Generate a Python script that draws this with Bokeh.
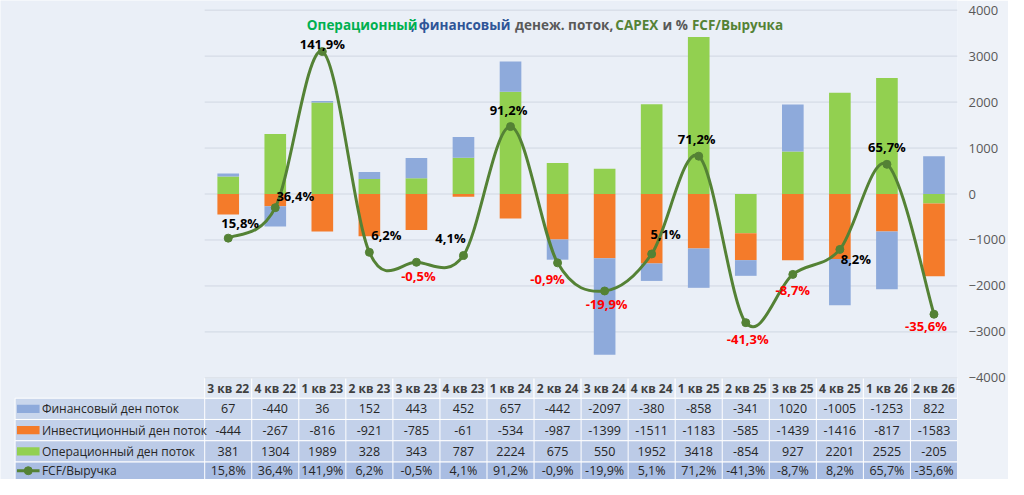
from bokeh.plotting import figure
from bokeh.models import Range1d, LinearAxis, FixedTicker, ColumnDataSource
from bokeh.embed import file_html
from bokeh.resources import INLINE
from bokeh.core.properties import value

cats = ["3 кв 22","4 кв 22","1 кв 23","2 кв 23","3 кв 23","4 кв 23","1 кв 24","2 кв 24",
        "3 кв 24","4 кв 24","1 кв 25","2 кв 25","3 кв 25","4 кв 25","1 кв 26","2 кв 26"]
fin = [67,-440,36,152,443,452,657,-442,-2097,-380,-858,-341,1020,-1005,-1253,822]
inv = [-444,-267,-816,-921,-785,-61,-534,-987,-1399,-1511,-1183,-585,-1439,-1416,-817,-1583]
op = [381,1304,1989,328,343,787,2224,675,550,1952,3418,-854,927,2201,2525,-205]
fcf = [15.8,36.4,141.9,6.2,-0.5,4.1,91.2,-0.9,-19.9,5.1,71.2,-41.3,-8.7,8.2,65.7,-35.6]
row_names = ["Финансовый ден поток","Инвестиционный ден поток","Операционный ден поток","FCF/Выручка"]
yticks = [-4000,-3000,-2000,-1000,0,1000,2000,3000,4000]

C_FIN, C_INV, C_OP, C_LINE = "#8eaadb", "#f47b2a", "#92d050", "#548235"
FONT = value("Open Sans")
n = len(cats)
xs = list(range(n))

p = figure(width=1008, height=479, output_backend="svg", toolbar_location=None,
           x_range=Range1d(-4.84, 15.5), y_range=Range1d(-6211, 4210),
           min_border_left=0, min_border_right=48, min_border_top=0, min_border_bottom=0)
p.background_fill_color = "#eaeff7"
p.border_fill_color = "#eef2f8"
p.outline_line_color = None
p.xaxis.visible = False
p.yaxis.visible = False
p.xgrid.visible = False
p.ygrid.visible = False

# table background
p.quad(left=[-4.53]*4, right=[15.5]*4, top=[-4442,-4905,-5368,-5831], bottom=[-4905,-5368,-5831,-6211],
       fill_color=["#c9d6ec","#c3d1ea","#bccbe7","#a9bde2"], line_color="white", line_width=1)
p.quad(left=[x-0.5 for x in xs], right=[x+0.5 for x in xs], top=[-4000]*n, bottom=[-4442]*n,
       fill_color="#dfe7f3", line_color="white", line_width=1)
for r in range(4):
    tops = [-4442,-4905,-5368,-5831][r]
    bots = [-4905,-5368,-5831,-6211][r]
    p.segment(x0=[x-0.5 for x in xs], x1=[x-0.5 for x in xs], y0=[tops]*n, y1=[bots]*n,
              line_color="white", line_width=1)

# grid
p.segment(x0=[-0.5]*len(yticks), x1=[15.5]*len(yticks), y0=yticks, y1=yticks,
          line_color="#d0d7e2", line_width=1)

# stacking
def stack(vals, pos, neg):
    b, t = [], []
    for i, v in enumerate(vals):
        if v >= 0:
            b.append(pos[i]); t.append(pos[i] + v); pos[i] += v
        else:
            b.append(neg[i]); t.append(neg[i] + v); neg[i] += v
    return b, t
pos = [0]*n; neg = [0]*n
ob, ot = stack(op, pos, neg)
ib, it = stack(inv, pos, neg)
fb, ft = stack(fin, pos, neg)
w = 0.46
p.vbar(x=xs, bottom=ob, top=ot, width=w, fill_color=C_OP, line_color=None)
p.vbar(x=xs, bottom=ib, top=it, width=w, fill_color=C_INV, line_color=None)
p.vbar(x=xs, bottom=fb, top=ft, width=w, fill_color=C_FIN, line_color=None)

# right axis
p.extra_y_ranges = {"pct": Range1d(-147.3, 176.4)}
ax = LinearAxis(ticker=FixedTicker(ticks=yticks), axis_line_color=None,
                major_tick_line_color=None, minor_tick_line_color=None,
                major_label_text_color="#595959", major_label_text_font_size="13px",
                major_label_text_font="Open Sans")
p.add_layout(ax, "right")

# smooth line (Catmull-Rom -> bezier)
x0s, y0s, x1s, y1s, cx0, cy0, cx1, cy1 = [], [], [], [], [], [], [], []
for i in range(n - 1):
    pa = (xs[i-1], fcf[i-1]) if i > 0 else (xs[i], fcf[i])
    pb = (xs[i], fcf[i]); pc = (xs[i+1], fcf[i+1])
    pd = (xs[i+2], fcf[i+2]) if i + 2 < n else pc
    x0s.append(pb[0]); y0s.append(pb[1]); x1s.append(pc[0]); y1s.append(pc[1])
    cx0.append(pb[0] + (pc[0]-pa[0])/6); cy0.append(pb[1] + (pc[1]-pa[1])/6)
    cx1.append(pc[0] - (pd[0]-pb[0])/6); cy1.append(pc[1] - (pd[1]-pb[1])/6)
p.bezier(x0=x0s, y0=y0s, x1=x1s, y1=y1s, cx0=cx0, cy0=cy0, cx1=cx1, cy1=cy1,
         line_color=C_LINE, line_width=3, y_range_name="pct")
p.scatter(x=xs, y=fcf, size=8, fill_color=C_LINE, line_color=C_LINE, y_range_name="pct")

labels = [f"{v:.1f}%".replace(".", ",") for v in fcf]
xo = [12, 20, 0, 17, 2, -13, -2, -10, 2, 14, -2, 2, 0, 16, 0, -8]
yo = [-15, -12, -8, -17, 14, -17, -17, 16, 13, -20, -17, 16, 16, 10, -17, 12]
lsrc = ColumnDataSource(dict(x=xs, y=fcf, t=labels, xo=xo, yo=yo,
                             c=["#000000" if v >= 0 else "#ff0000" for v in fcf]))
p.text(x="x", y="y", text="t", x_offset="xo", y_offset="yo", text_color="c", source=lsrc,
       text_font=FONT, text_font_style="bold", text_font_size="13px",
       text_align="center", text_baseline="middle", y_range_name="pct")

# title (parts placed at pixel starts)
parts = [("Операционный", "#00b050", 312), (",", "#2f5597", 418), ("финансовый", "#2f5597", 426),
         ("денеж. поток,", "#595959", 524), ("CAPEX", "#548235", 626), ("и %", "#595959", 674),
         ("FCF/Выручка", "#548235", 704)]
for t, c, px in parts:
    p.text(x=[-0.5 + (px - 208) / 47.9], y=[3670], text=[t], text_color=c, text_font=FONT,
           text_font_style="bold", text_font_size="13.5px", text_baseline="middle", text_align="left")

# category labels and table values
p.text(x=xs, y=[-4225]*n, text=cats, text_color="#404040", text_font=FONT, text_font_style="bold",
       text_font_size="12px", text_align="center", text_baseline="middle")
rows = [fin, inv, op, labels]
ycen = [-4673, -5136, -5599, -6020]
for r, vals in enumerate(rows):
    p.text(x=xs, y=[ycen[r]]*n, text=[str(v) for v in vals], text_color="#262626", text_font=FONT,
           text_font_size="12.5px", text_align="center", text_baseline="middle")
    p.text(x=[-3.96], y=[ycen[r]], text=[row_names[r]], text_color="#262626", text_font=FONT,
           text_font_size="12px", text_align="left", text_baseline="middle")
p.quad(left=[-4.49]*3, right=[-4.01]*3, top=[y+90 for y in ycen[:3]], bottom=[y-90 for y in ycen[:3]],
       fill_color=[C_FIN, C_INV, C_OP], line_color=None)
p.segment(x0=[-4.49], x1=[-4.01], y0=[ycen[3]], y1=[ycen[3]], line_color=C_LINE, line_width=3)
p.scatter(x=[-4.25], y=[ycen[3]], size=8, fill_color=C_LINE, line_color=C_LINE)

open("out.html", "w").write(file_html(p, INLINE))
